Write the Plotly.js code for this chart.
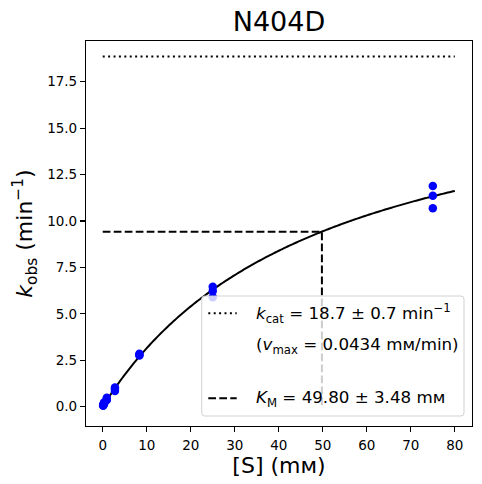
<!DOCTYPE html>
<html>
<head>
<meta charset="utf-8">
<script src="https://cdn.plot.ly/plotly-3.0.1.min.js"></script>
<style>html,body{margin:0;padding:0;background:#fff;}#chart{width:482px;height:484px;}</style>
</head>
<body>
<div id="chart"></div>
<script>
const substrate = [0.103, 0.103, 0.103, 0.309, 0.309, 0.309, 0.926, 0.926, 0.926,
                   2.78, 2.78, 2.78, 8.33, 8.33, 8.33, 25, 25, 25, 75, 75, 75];
const kobs = [0.05, 0.08, 0.11, 0.14, 0.18, 0.22, 0.36, 0.42, 0.48,
              0.85, 0.95, 1.03, 2.75, 2.80, 2.85, 5.89, 6.23, 6.46, 10.68, 11.36, 11.88];
// Fit parameters (Michaelis-Menten), as plotted
const kcat = 18.85;
const KM = 49.8;
const fitXMax = 80;
const xTicks = [0, 10, 20, 30, 40, 50, 60, 70, 80];
const yTicks = [0, 2.5, 5, 7.5, 10, 12.5, 15, 17.5];
const legendTexts = [
  '<i>k</i><sub>cat</sub> = 18.7 ± 0.7 min<sup>−1</sup>',
  '(<i>v</i><sub>max</sub> = 0.0434 mᴍ/min)',
  '<i>K</i><sub>M</sub> = 49.80 ± 3.48 mᴍ'
];

// fitted model curve from the fit parameters
const fitX = [], fitY = [];
for (let i = 0; i <= 200; i++) {
  const s = fitXMax * i / 200;
  fitX.push(s);
  fitY.push(kcat * s / (KM + s));
}

const FONT = 'DejaVu Sans, sans-serif';
const traces = [
  {x: fitX, y: fitY, mode: 'lines', line: {color: '#000', width: 2, simplify: false}, hoverinfo: 'skip'},
  {x: [0, fitXMax], y: [kcat, kcat], mode: 'lines', line: {color: '#000', width: 2, dash: '2px,3.4px'}},
  {x: [0, KM, KM], y: [kcat / 2, kcat / 2, 0], mode: 'lines', line: {color: '#000', width: 2, dash: '7.7px,3.3px'}},
  {x: substrate, y: kobs, mode: 'markers', marker: {color: '#0000ff', size: 8.5}}
];

// legend box (paper coords), rounded corners
const L = 86, R = 472, T = 41, B = 426;
const W = R - L, H = B - T;
const px = v => (v - L) / W;
const py = v => (B - v) / H;
function roundRect(x0, y0, x1, y1, r) {
  const rx = r / W, ry = r / H;
  const a = px(x0), b = px(x1), top = py(y0), bot = py(y1);
  return `M${a + rx},${top} L${b - rx},${top} Q${b},${top} ${b},${top - ry} L${b},${bot + ry} Q${b},${bot} ${b - rx},${bot} L${a + rx},${bot} Q${a},${bot} ${a},${bot + ry} L${a},${top - ry} Q${a},${top} ${a + rx},${top} Z`;
}

const shapes = [
  {type: 'path', xref: 'paper', yref: 'paper', layer: 'above', path: roundRect(201.7, 296, 464, 416, 3),
   fillcolor: 'rgba(255,255,255,0.8)', line: {color: 'rgba(204,204,204,0.9)', width: 1}},
  {type: 'line', xref: 'paper', yref: 'paper', layer: 'above', x0: px(208.3), x1: px(236.7), y0: py(313.3), y1: py(313.3),
   line: {color: '#000', width: 2, dash: '2px,3.4px'}},
  {type: 'line', xref: 'paper', yref: 'paper', layer: 'above', x0: px(208.3), x1: px(236.7), y0: py(398.3), y1: py(398.3),
   line: {color: '#000', width: 2, dash: '7.7px,3.3px'}}
];

const annotations = [
  {text: legendTexts[0], x: px(254), y: py(313), xref: 'paper', yref: 'paper', xanchor: 'left', yanchor: 'middle', showarrow: false, font: {family: FONT, size: 16.7, color: '#000'}},
  {text: legendTexts[1], x: px(254), y: py(345), xref: 'paper', yref: 'paper', xanchor: 'left', yanchor: 'middle', showarrow: false, font: {family: FONT, size: 16.7, color: '#000'}},
  {text: legendTexts[2], x: px(254), y: py(398), xref: 'paper', yref: 'paper', xanchor: 'left', yanchor: 'middle', showarrow: false, font: {family: FONT, size: 16.7, color: '#000'}}
];

const axisCommon = {
  showgrid: false, zeroline: false, showline: true, mirror: true, linecolor: '#000', linewidth: 1.1,
  ticks: 'outside', ticklen: 5, tickwidth: 1.1, tickcolor: '#000',
  tickfont: {family: FONT, size: 13.5, color: '#000'}
};

const layout = {
  width: 482, height: 484,
  margin: {l: L, r: 482 - R, t: T, b: 484 - B},
  paper_bgcolor: '#fff', plot_bgcolor: '#fff',
  showlegend: false,
  title: {text: 'N404D', font: {family: FONT, size: 27, color: '#000'}, x: 0.5, xref: 'paper', xanchor: 'center', y: 0.955, yref: 'container', yanchor: 'middle'},
  xaxis: Object.assign({}, axisCommon, {
    range: [-3.8, 83.9], tickvals: xTicks, ticktext: xTicks.map(String), ticklabelstandoff: 2,
    title: {text: '[S] (mᴍ)', font: {family: FONT, size: 22, color: '#000'}, standoff: 2}
  }),
  yaxis: Object.assign({}, axisCommon, {
    range: [-1.04, 19.69], tickvals: yTicks, ticktext: yTicks.map(v => v.toFixed(1)),
    title: {text: '<i>k</i><sub>obs</sub> (min<sup>−1</sup>)', font: {family: FONT, size: 22, color: '#000'}, standoff: 8}
  }),
  shapes: shapes,
  annotations: annotations
};

Plotly.newPlot('chart', traces, layout, {displayModeBar: false, staticPlot: true});
</script>
</body>
</html>
